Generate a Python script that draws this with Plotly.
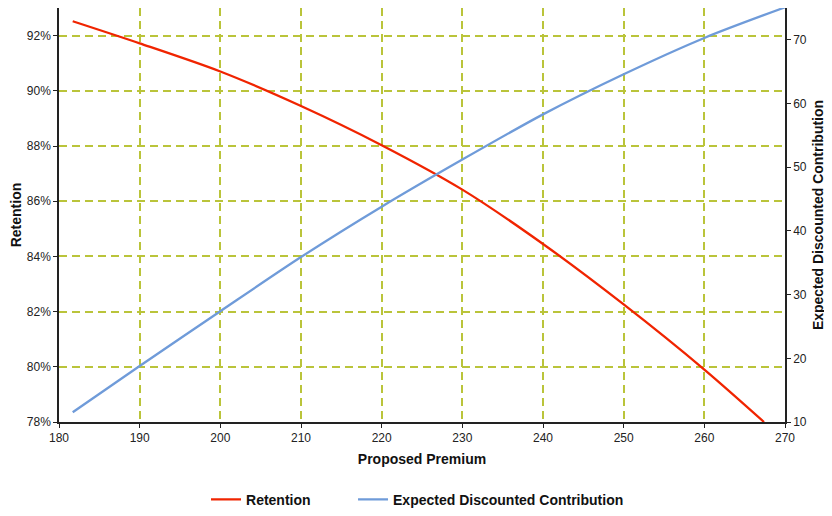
import plotly.graph_objects as go

premium_ret = [181.7, 190, 200, 210, 220, 230, 240, 250, 260, 267.4]
retention = [0.9252, 0.9172, 0.9070, 0.8945, 0.8803, 0.8642, 0.8445, 0.8226, 0.7990, 0.7800]

premium_edc = [181.7, 190, 200, 210, 220, 230, 240, 250, 260, 270]
edc = [11.53, 18.8, 27.4, 35.9, 43.8, 51.2, 58.3, 64.6, 70.3, 75.1]

x_ticks = [180, 190, 200, 210, 220, 230, 240, 250, 260, 270]

grid_color = "#BAC43A"
font_family = "Liberation Sans, Arial, sans-serif"
title_font = dict(size=14, color="#111")

fig = go.Figure()
fig.add_trace(go.Scatter(x=premium_ret, y=retention, name="Retention", mode="lines",
                         line=dict(color="#F02400", width=2.3, shape="spline", smoothing=0.8),
                         yaxis="y", legend="legend"))
fig.add_trace(go.Scatter(x=premium_edc, y=edc, name="Expected Discounted Contribution", mode="lines",
                         line=dict(color="#6F9BD9", width=2.3, shape="spline", smoothing=0.8),
                         yaxis="y2", legend="legend2"))

axis_common = dict(showline=True, linecolor="#222", linewidth=1.5, ticks="outside", ticklen=4,
                   tickcolor="#222", zeroline=False, automargin=False,
                   tickfont=dict(size=12, color="#222"))

legend_font = dict(size=14, color="#111", weight="bold")

fig.update_layout(
    width=824, height=508,
    margin=dict(l=51, r=47, t=0, b=94),
    paper_bgcolor="white", plot_bgcolor="white",
    font=dict(family=font_family, size=12, color="#222"),
    showlegend=True,
    legend=dict(orientation="h", x=0.2025, xanchor="left", y=-0.188, yanchor="middle",
                font=legend_font, bgcolor="rgba(0,0,0,0)"),
    legend2=dict(orientation="h", x=0.405, xanchor="left", y=-0.188, yanchor="middle",
                 font=legend_font, bgcolor="rgba(0,0,0,0)"),
    xaxis=dict(range=[180, 270], tickvals=x_ticks, showgrid=True, gridcolor=grid_color,
               griddash="8px,5px", gridwidth=1.5,
               title=dict(text="<b>Proposed Premium</b>", font=title_font, standoff=10),
               **axis_common),
    yaxis=dict(range=[0.78, 0.93], tick0=0.78, dtick=0.02, tickformat=".0%", showgrid=True,
               gridcolor=grid_color, griddash="8px,5px", gridwidth=1.5,
               title=dict(text="<b>Retention</b>", font=title_font, standoff=9),
               **axis_common),
    yaxis2=dict(range=[10, 75], tick0=10, dtick=10, overlaying="y", side="right", showgrid=False,
                title=dict(text="<b>Expected Discounted Contribution</b>", font=title_font, standoff=7),
                **axis_common),
)

fig.write_html("out.html")
